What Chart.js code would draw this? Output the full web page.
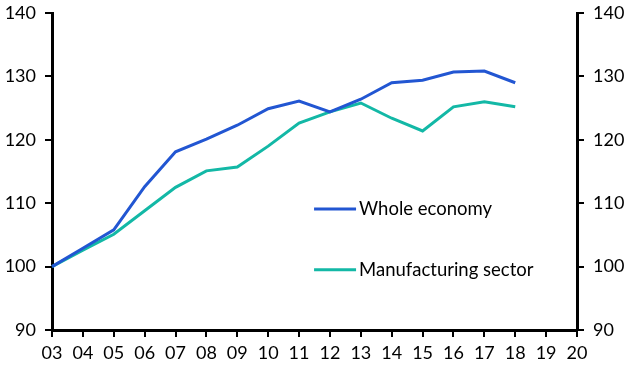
<!DOCTYPE html>
<html><head><meta charset="utf-8">
<script src="https://cdn.jsdelivr.net/npm/chart.js@4"></script>
<style>html,body{margin:0;padding:0;background:#fff}#wrap{width:641px;height:380px}</style>
</head><body><div id="wrap"><canvas id="c" width="641" height="380"></canvas></div>
<script>
const categories = ["03","04","05","06","07","08","09","10","11","12","13","14","15","16","17","18","19","20"];
const wholeEconomy = [100,102.9,105.8,112.6,118.1,120.1,122.3,124.9,126.1,124.4,126.4,129.0,129.4,130.7,130.85,129.0,null,null];
const manufacturing = [100,102.6,105.1,108.8,112.5,115.1,115.7,119.0,122.65,124.4,125.8,123.4,121.4,125.2,126.0,125.2,null,null];
const yTicks = [90,100,110,120,130,140];
const seriesNames = ["Whole economy","Manufacturing sector"];
const FONT = "Lato, 'Open Sans', sans-serif";

const legendPlugin = {
  id: 'inlineLegend',
  afterDatasetsDraw(chart) {
    const ctx = chart.ctx;
    const y = chart.scales.y;
    const x = chart.scales.x;
    const pos = [109.1, 99.5];
    chart.data.datasets.forEach((ds, i) => {
      const yy = y.getPixelForValue(pos[i]);
      const x0 = x.getPixelForValue(8) + 15;
      ctx.save();
      ctx.strokeStyle = ds.borderColor;
      ctx.lineWidth = 3;
      ctx.beginPath(); ctx.moveTo(x0, yy); ctx.lineTo(x0 + 42, yy); ctx.stroke();
      ctx.fillStyle = '#000';
      ctx.font = '18.5px ' + FONT;
      ctx.textBaseline = 'middle';
      ctx.fillText(ds.label, x0 + 45, yy);
      ctx.restore();
    });
  }
};

const yAxisCommon = {
  min: 90, max: 140,
  afterBuildTicks(s){ s.ticks = yTicks.map(v=>({value:v})); },
  grid: {display:true, drawOnChartArea:false, drawTicks:true, tickLength:7, color:'#000', lineWidth:2},
  border: {display:true, color:'#000', width:3},
  ticks: {color:'#000', font:{family:FONT, size:18}, padding:9}
};

new Chart(document.getElementById('c'), {
  type: 'line',
  data: {
    labels: categories,
    datasets: [
      {label: seriesNames[0], data: wholeEconomy, borderColor:'#2256d2', borderWidth:3, pointRadius:0, tension:0, spanGaps:false},
      {label: seriesNames[1], data: manufacturing, borderColor:'#13b8a6', borderWidth:3, pointRadius:0, tension:0, spanGaps:false}
    ]
  },
  options: {
    responsive:false, animation:false,
    layout:{padding:{top:13, left:0, right:0, bottom:0}},
    plugins:{legend:{display:false}, tooltip:{enabled:false}},
    scales:{
      x:{
        offset:false,
        grid:{display:true, drawOnChartArea:false, drawTicks:true, tickLength:7, color:'#000', lineWidth:2},
        border:{display:true, color:'#000', width:3},
        ticks:{color:'#000', font:{family:FONT, size:18}, padding:5, maxRotation:0, autoSkip:false},
        afterFit(s){ s.height = 50; s.paddingLeft = 0; s.paddingRight = 0; }
      },
      y: Object.assign({position:'left', afterFit(s){ s.width = 52; s.paddingTop = 0; s.paddingBottom = 0; }}, yAxisCommon),
      y2: Object.assign({position:'right', afterFit(s){ s.width = 64; s.paddingTop = 0; s.paddingBottom = 0; }}, yAxisCommon)
    }
  },
  plugins:[legendPlugin]
});
</script></body></html>
